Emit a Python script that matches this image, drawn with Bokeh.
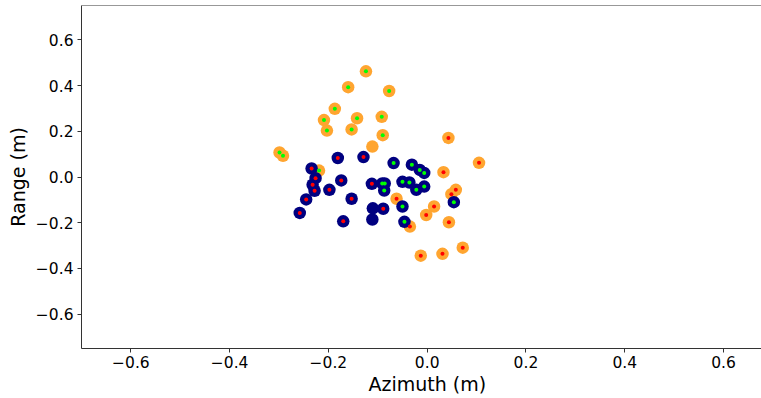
from bokeh.plotting import figure
from bokeh.models import Range1d, Span, FixedTicker, ColumnDataSource, Title
from bokeh.embed import file_html
from bokeh.resources import INLINE

# Class A targets (orange) and class B targets (navy): azimuth / range in metres
orange_az = [-0.124, -0.160, -0.077, -0.187, -0.142, -0.209, -0.092, -0.203, -0.153,
             -0.090, -0.299, -0.292, -0.111, 0.043, 0.105, -0.219, 0.033, 0.058,
             0.049, -0.062, 0.014, -0.002, 0.044, -0.035, 0.072, -0.013, 0.031]
orange_rng = [0.462, 0.393, 0.376, 0.298, 0.257, 0.249, 0.263, 0.203, 0.208,
              0.183, 0.107, 0.093, 0.133, 0.171, 0.062, 0.028, 0.021, -0.056,
              -0.075, -0.095, -0.129, -0.166, -0.198, -0.217, -0.309, -0.344, -0.336]
# label of the inner marker: "g" = green, "r" = red, "" = none
orange_mark = ["g", "g", "g", "g", "g", "g", "g", "g", "g",
               "g", "g", "g", "", "r", "r", "g", "r", "r",
               "r", "r", "r", "r", "r", "r", "r", "r", "r"]

navy_az = [-0.181, -0.129, -0.068, -0.031, -0.015, -0.006, -0.234, -0.226, -0.232,
           -0.228, -0.198, -0.174, -0.112, -0.091, -0.086, -0.087, -0.050, -0.036,
           -0.022, -0.006, 0.054, -0.245, -0.258, -0.153, -0.050, -0.110, -0.089,
           -0.111, -0.170, -0.046]
navy_rng = [0.083, 0.087, 0.061, 0.054, 0.031, 0.018, 0.037, -0.005, -0.034,
            -0.060, -0.056, -0.015, -0.030, -0.028, -0.028, -0.059, -0.021, -0.024,
            -0.056, -0.042, -0.110, -0.098, -0.157, -0.095, -0.129, -0.137, -0.139,
            -0.186, -0.194, -0.196]
navy_mark = ["r", "r", "g", "g", "g", "g", "r", "r", "r",
             "r", "r", "r", "r", "g", "g", "g", "g", "g",
             "g", "g", "g", "r", "r", "r", "g", "", "r",
             "", "r", "g"]

x_ticks = [-0.6, -0.4, -0.2, 0.0, 0.2, 0.4, 0.6]
x_tick_labels = ["\u22120.6", "\u22120.4", "\u22120.2", "0.0", "0.2", "0.4", "0.6"]
y_ticks = [-0.6, -0.4, -0.2, 0.0, 0.2, 0.4, 0.6]
y_tick_labels = ["\u22120.6", "\u22120.4", "\u22120.2", "0.0", "0.2", "0.4", "0.6"]

FONT = "DejaVu Sans"
X_LO, X_HI = -0.7, 0.677   # the axis runs to 0.7; the window shows up to ~0.677
Y_LO, Y_HI = -0.75, 0.75

p = figure(width=761, height=398, output_backend="svg", toolbar_location=None,
           x_range=Range1d(X_LO, X_HI), y_range=Range1d(Y_LO, Y_HI),
           min_border_left=81, min_border_right=0, min_border_top=5,
           min_border_bottom=50)
p.outline_line_color = None
p.xgrid.visible = False
p.ygrid.visible = False
p.background_fill_color = "white"
p.border_fill_color = "white"

# top spine
p.add_layout(Span(location=Y_HI, dimension="width", line_color="#333333", line_width=1))

for ax, ticks, labels in ((p.xaxis[0], x_ticks, x_tick_labels),
                          (p.yaxis[0], y_ticks, y_tick_labels)):
    ax.ticker = FixedTicker(ticks=ticks)
    ax.major_label_overrides = {t: l for t, l in zip(ticks, labels)}
    ax.minor_tick_line_color = None
    ax.major_tick_in = 0
    ax.major_tick_out = 4
    ax.major_tick_line_color = "#333333"
    ax.axis_line_color = "#333333"
    ax.major_label_text_font = FONT
    ax.major_label_text_font_size = "15.5px"
    ax.major_label_text_color = "black"

p.xaxis.major_label_standoff = 3
p.yaxis.major_label_standoff = 4

p.yaxis.axis_label = "Range (m)"
p.yaxis.axis_label_standoff = 4
p.yaxis.axis_label_text_font = FONT
p.yaxis.axis_label_text_font_size = "19px"
p.yaxis.axis_label_text_font_style = "normal"
p.yaxis.axis_label_text_color = "black"

# x title centred on the full -0.7..0.7 span (i.e. at azimuth 0)
p.add_layout(Title(text="Azimuth (m)", align="left", offset=287, standoff=0,
                   text_font=FONT, text_font_size="19px", text_font_style="normal",
                   text_color="black"), "below")

p.scatter(orange_az, orange_rng, size=12.5, fill_color="#ffa530", line_color=None)
p.scatter(navy_az, navy_rng, size=12.5, fill_color="#000080", line_color=None)

# inner markers, drawn on top
all_az = orange_az + navy_az
all_rng = orange_rng + navy_rng
all_mark = orange_mark + navy_mark
for key, color in (("g", "#00ff00"), ("r", "#ff0000")):
    src = ColumnDataSource(dict(
        x=[a for a, m in zip(all_az, all_mark) if m == key],
        y=[r for r, m in zip(all_rng, all_mark) if m == key]))
    p.scatter("x", "y", source=src, size=4, fill_color=color, line_color=None)

open("out.html", "w").write(file_html(p, INLINE))
